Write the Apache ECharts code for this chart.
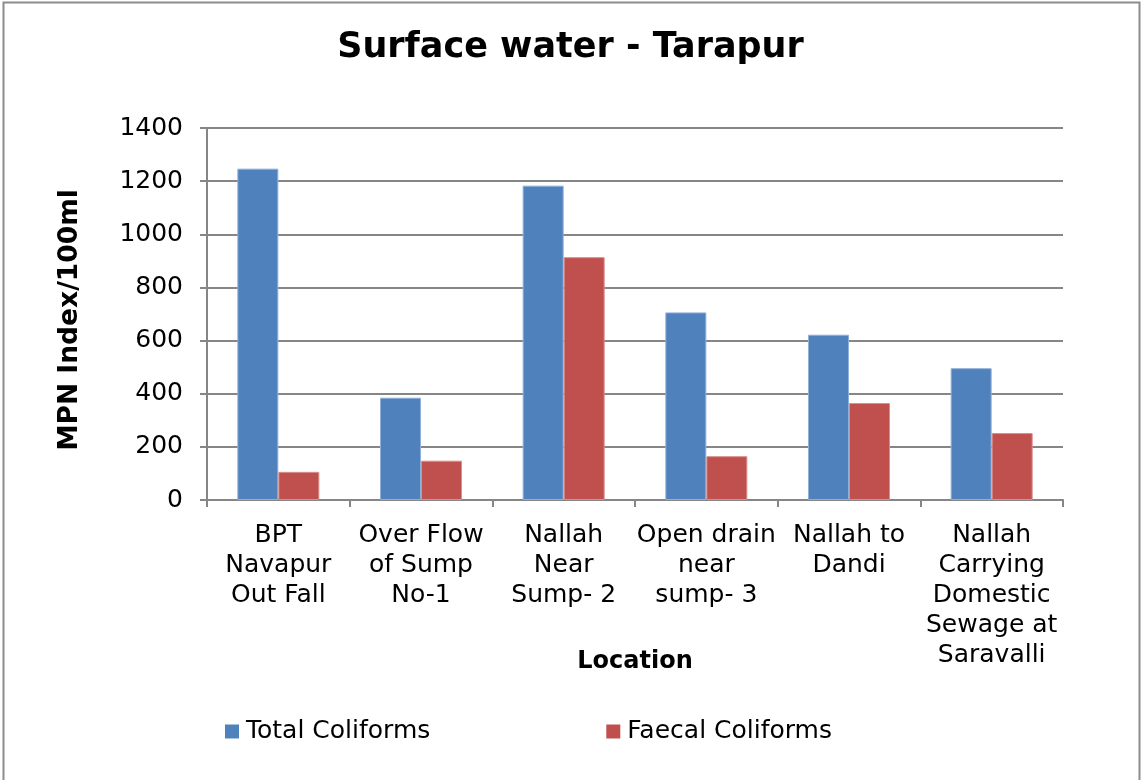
<!DOCTYPE html>
<html>
<head>
<meta charset="utf-8">
<title>Surface water - Tarapur</title>
<script src="https://cdn.jsdelivr.net/npm/echarts@6/dist/echarts.min.js"></script>
<style>
  html, body { margin: 0; padding: 0; background: #fff; }
  #chart { width: 1141px; height: 780px; }
</style>
</head>
<body>
<div id="chart"></div>
<script>
  // data
  const locations = [
    'BPT\nNavapur\nOut Fall',
    'Over Flow\nof Sump\nNo-1',
    'Nallah\nNear\nSump- 2',
    'Open drain\nnear\nsump- 3',
    'Nallah to\nDandi',
    'Nallah\nCarrying\nDomestic\nSewage at\nSaravalli'
  ];
  const totalColiforms = [1247, 385, 1183, 706, 622, 496];
  const faecalColiforms = [106, 148, 914, 165, 365, 252];
  const seriesNames = ['Total Coliforms', 'Faecal Coliforms'];

  const font = 'DejaVu Sans, Verdana, sans-serif';
  const gray = '#868686';

  const myChart = echarts.init(document.getElementById('chart'));

  myChart.setOption({
    animation: false,
    textStyle: { fontFamily: font },
    title: {
      text: 'Surface water - Tarapur',
      left: 'center',
      top: 25,
      textStyle: { fontFamily: font, fontSize: 35, fontWeight: 'bold', color: '#000' }
    },
    graphic: [{
      type: 'rect',
      shape: { x: 3.5, y: 2.5, width: 1136, height: 800 },
      style: { fill: 'none', stroke: '#8c8c8c', lineWidth: 2 },
      silent: true
    }],
    legend: {
      data: seriesNames,
      left: 225,
      top: 719,
      padding: 0,
      icon: 'rect',
      itemWidth: 14,
      itemHeight: 14,
      itemGap: 176,
      itemStyle: { borderWidth: 0 },
      textStyle: { fontFamily: font, fontSize: 25, color: '#000', padding: [0, 0, 0, 2] }
    },
    grid: {
      left: 207,
      right: 78,
      top: 128,
      bottom: 280
    },
    xAxis: {
      type: 'category',
      data: locations,
      name: 'Location',
      nameLocation: 'middle',
      nameGap: 150,
      nameMoveOverlap: false,
      nameTextStyle: { fontFamily: font, fontSize: 24, fontWeight: 'bold', color: '#000' },
      axisLine: { lineStyle: { color: gray, width: 2 } },
      axisTick: { show: true, alignWithLabel: false, length: 7, lineStyle: { color: gray, width: 2 } },
      axisLabel: {
        interval: 0,
        margin: 20,
        fontFamily: font,
        fontSize: 25,
        lineHeight: 30,
        color: '#000'
      },
      splitLine: { show: false }
    },
    yAxis: {
      type: 'value',
      min: 0,
      max: 1400,
      interval: 200,
      name: 'MPN Index/100ml',
      nameLocation: 'middle',
      nameGap: 123,
      nameMoveOverlap: false,
      nameRotate: 90,
      nameTextStyle: {
        fontFamily: font, fontSize: 26.5, fontWeight: 'bold', color: '#000',
        padding: [0, 12, 0, 0]
      },
      axisLine: { show: true, lineStyle: { color: gray, width: 2 } },
      axisTick: { show: true, length: 7, lineStyle: { color: gray, width: 2 } },
      axisLabel: {
        margin: 24,
        fontFamily: font,
        fontSize: 25,
        color: '#000',
        formatter: function (v) { return String(v); }
      },
      splitLine: { show: true, lineStyle: { color: gray, width: 2 } }
    },
    series: [
      {
        name: seriesNames[0],
        type: 'bar',
        data: totalColiforms,
        barWidth: 41,
        barGap: '0%',
        itemStyle: { color: '#4F81BD', borderColor: '#8fb0d9', borderWidth: 1 }
      },
      {
        name: seriesNames[1],
        type: 'bar',
        data: faecalColiforms,
        barWidth: 41,
        barGap: '0%',
        itemStyle: { color: '#C0504D', borderColor: '#d88f8d', borderWidth: 1 }
      }
    ]
  });
</script>
</body>
</html>
